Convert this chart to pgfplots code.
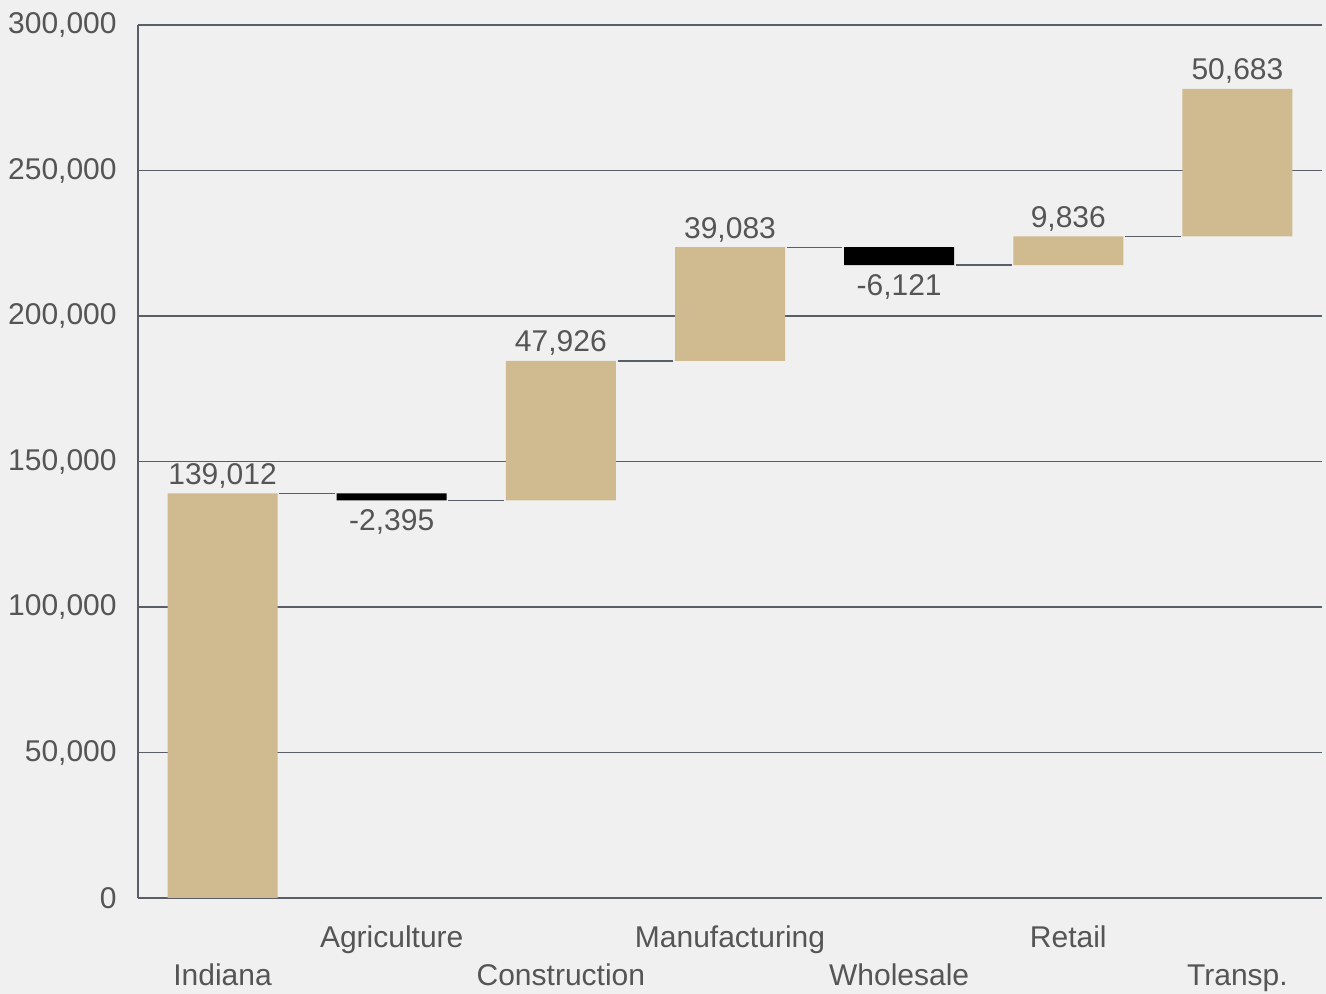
\documentclass[border=0pt]{standalone}
\usepackage{pgfplots}
\pgfplotsset{compat=1.18}
\usepackage{fontspec}
\setmainfont{Liberation Sans}
\definecolor{bg}{HTML}{F0F0F0}
\definecolor{tanbar}{HTML}{D0BA8F}
\definecolor{txt}{HTML}{555555}
\definecolor{gridc}{HTML}{5A5E66}
\newcommand\low[1]{\raisebox{-19pt}{#1}}
\begin{document}
\begin{tikzpicture}[font=\fontsize{15pt}{18pt}\selectfont]
\fill[bg] (-69pt,-48pt) rectangle (594pt,449pt);
\pgfplotsset{
  common/.style={
    at={(0,0)}, anchor=south west,
    scale only axis, width=592pt, height=436.5pt,
    xmin=-0.5, xmax=6.5, ymin=0, ymax=300000,
  }
}
\begin{axis}[common,
  ybar stacked, bar width=55pt,
  axis lines*=left,
  axis line style={draw=gridc, line width=0.75pt},
  ymajorgrids, grid style={draw=gridc, line width=0.75pt},
  major tick length=0pt,
  xtick={0,...,6},
  xticklabels={\low{Indiana},Agriculture,\low{Construction},Manufacturing,\low{Wholesale},Retail,\low{Transp.}},
  xticklabel style={anchor=base, yshift=-24.5pt, inner sep=0pt, text=txt},
  ytick={0,50000,100000,150000,200000,250000,300000},
  yticklabel={\pgfmathprintnumber[fixed,precision=0,1000 sep={,},assume math mode=true]{\tick}},
  yticklabel style={anchor=east, inner sep=0pt, xshift=-10.5pt, text=txt},
  scaled y ticks=false,
]
\addplot[draw=none, fill=none] coordinates {(0,0) (1,136617) (2,136617) (3,184543) (4,217505) (5,217505) (6,227341)};
\addplot[fill=tanbar, draw=none] coordinates {(0,139012) (1,0) (2,47926) (3,39083) (4,0) (5,9836) (6,50683)};
\addplot[fill=black, draw=none] coordinates {(0,0) (1,2395) (2,0) (3,0) (4,6121) (5,0) (6,0)};
\end{axis}
\begin{axis}[common, hide axis]
\addplot[gridc, line width=0.6pt] coordinates {(0.335,139012) (0.665,139012)};
\addplot[gridc, line width=0.6pt] coordinates {(1.335,136617) (1.665,136617)};
\addplot[gridc, line width=0.6pt] coordinates {(2.335,184543) (2.665,184543)};
\addplot[gridc, line width=0.6pt] coordinates {(3.335,223626) (3.665,223626)};
\addplot[gridc, line width=0.6pt] coordinates {(4.335,217505) (4.665,217505)};
\addplot[gridc, line width=0.6pt] coordinates {(5.335,227341) (5.665,227341)};
\addplot[draw=none, mark=none, point meta=explicit,
  nodes near coords={\pgfmathprintnumber[fixed,precision=0,1000 sep={,},assume math mode=true]{\pgfplotspointmeta}},
  every node near coord/.style={anchor=base, inner sep=0pt, yshift=4.5pt, text=txt}]
  coordinates {(0,139012)[139012] (2,184543)[47926] (3,223626)[39083] (5,227341)[9836] (6,278024)[50683]};
\addplot[draw=none, mark=none, point meta=explicit,
  nodes near coords={\pgfmathprintnumber[fixed,precision=0,1000 sep={,},assume math mode=true]{\pgfplotspointmeta}},
  every node near coord/.style={anchor=north, inner sep=0pt, yshift=-4.5pt, text=txt}]
  coordinates {(1,136617)[-2395] (4,217505)[-6121]};
\end{axis}
\pgfresetboundingbox
\path[use as bounding box] (-69pt,-48pt) rectangle (594pt,449pt);
\end{tikzpicture}
\end{document}
